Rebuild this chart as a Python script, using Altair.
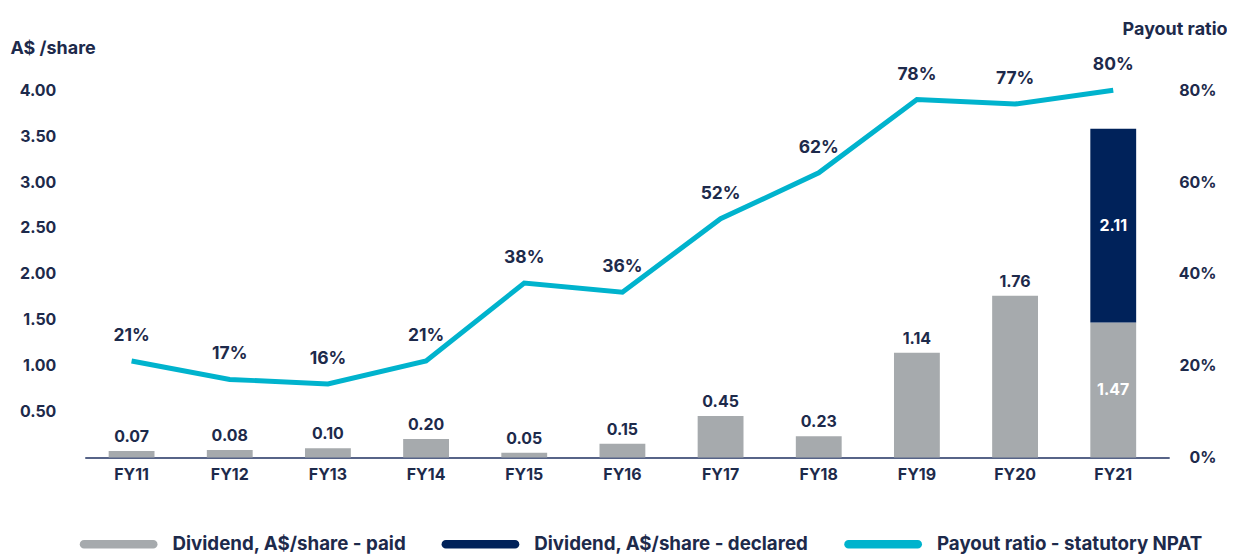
import altair as alt
import pandas as pd

years = ["FY11", "FY12", "FY13", "FY14", "FY15", "FY16", "FY17", "FY18", "FY19", "FY20", "FY21"]
paid = [0.07, 0.08, 0.10, 0.20, 0.05, 0.15, 0.45, 0.23, 1.14, 1.76, 1.47]
declared = [0, 0, 0, 0, 0, 0, 0, 0, 0, 0, 2.11]
payout = [0.21, 0.17, 0.16, 0.21, 0.38, 0.36, 0.52, 0.62, 0.78, 0.77, 0.80]

S_PAID = "Dividend, A$/share - paid"
S_DECL = "Dividend, A$/share - declared"
S_PAY = "Payout ratio - statutory NPAT"
series = [S_PAID, S_DECL, S_PAY]
colors = ["#a6aaad", "#00225a", "#00b3cd"]

TEXT = "#1d2a4b"
FONT = "Inter"

rows = []
for i, y in enumerate(years):
    rows.append({"year": y, "series": S_PAID, "value": paid[i], "order": 0})
    if declared[i] > 0:
        rows.append({"year": y, "series": S_DECL, "value": declared[i], "order": 1})
bars_df = pd.DataFrame(rows)

top_df = pd.DataFrame({"year": years, "value": paid, "decl": declared})
top_df = top_df[top_df["decl"] == 0]

inside_rows = []
for i, y in enumerate(years):
    if declared[i] > 0:
        inside_rows.append({"year": y, "value": paid[i] / 2, "label": f"{paid[i]:.2f}"})
        inside_rows.append({"year": y, "value": paid[i] + declared[i] / 2, "label": f"{declared[i]:.2f}"})
inside_df = pd.DataFrame(inside_rows)

line_df = pd.DataFrame({"year": years, "payout": payout})
legend_df = pd.DataFrame({"series": series, "year": ["FY11"] * 3, "value": [0, 0, 0]})

xscale = alt.Scale(domain=years, paddingInner=0.533, paddingOuter=0.29, align=0.42)
xaxis = alt.Axis(title=None, labelAngle=0, ticks=False, domainColor="#1f3160",
                 domainWidth=1.5, labelPadding=9, labelFontSize=16,
                 labelFont=FONT, labelFontWeight="bold", labelColor=TEXT)
xenc = alt.X("year:N", scale=xscale, sort=years, axis=xaxis)

yscale_l = alt.Scale(domain=[0, 4.3], nice=False)
yscale_r = alt.Scale(domain=[0, 0.86], nice=False)
yaxis_l = alt.Axis(values=[0.5, 1, 1.5, 2, 2.5, 3, 3.5, 4], format=".2f",
                   title="A$ /share", titleAngle=0, titleX=-75, titleY=-14,
                   titleAlign="left", titleBaseline="middle", titleFontSize=18,
                   titleFont=FONT, titleFontWeight="bold", titleColor=TEXT,
                   ticks=False, domain=False, grid=False, labelPadding=29,
                   labelFontSize=16, labelFont=FONT, labelFontWeight="bold",
                   labelColor=TEXT)
yaxis_r = alt.Axis(orient="right", values=[0, 0.2, 0.4, 0.6, 0.8], format=".0%",
                   title="Payout ratio", titleAngle=0, titleX=58, titleY=-33,
                   titleAlign="right", titleBaseline="middle", titleFontSize=18,
                   titleFont=FONT, titleFontWeight="bold", titleColor=TEXT,
                   ticks=False, domain=False, grid=False, labelPadding=47,
                   labelAlign="right", labelFontSize=16, labelFont=FONT,
                   labelFontWeight="bold", labelColor=TEXT)

color_scale = alt.Scale(domain=series, range=colors)
legend = alt.Legend(title=None, orient="none", legendX=-5, legendY=444,
                    direction="horizontal",
                    symbolType="M-0.89,-0.11 L0.89,-0.11 A0.11,0.11 0 0 1 0.89,0.11 L-0.89,0.11 A0.11,0.11 0 0 1 -0.89,-0.11 Z",
                    symbolSize=6084, symbolOpacity=1, symbolStrokeWidth=0,
                    labelFontSize=18.8, labelFont=FONT, labelFontWeight="bold",
                    labelColor=TEXT, labelOffset=15, columnPadding=35,
                    padding=0, labelLimit=400)
cenc = alt.Color("series:N", scale=color_scale, sort=series, legend=legend)

yl = alt.Y("value:Q", scale=yscale_l, axis=yaxis_l)

bars = alt.Chart(bars_df).mark_bar().encode(
    x=xenc,
    y=alt.Y("value:Q", scale=yscale_l, axis=yaxis_l, stack="zero"),
    color=cenc,
    order=alt.Order("order:Q"),
)

bar_labels = alt.Chart(top_df).mark_text(dy=-14, fontSize=16, font=FONT, fontWeight="bold",
                                         color=TEXT).encode(
    x=xenc,
    y=yl,
    text=alt.Text("value:Q", format=".2f"),
)

inside_labels = alt.Chart(inside_df).mark_text(fontSize=16, font=FONT, fontWeight="bold",
                                               color="white").encode(
    x=xenc,
    y=yl,
    text="label:N",
)

legend_layer = alt.Chart(legend_df).mark_point(filled=True, opacity=0, size=1).encode(
    x=xenc,
    y=yl,
    color=cenc,
)

left = alt.layer(bars, bar_labels, inside_labels, legend_layer)

yr = alt.Y("payout:Q", scale=yscale_r, axis=yaxis_r)

line = alt.Chart(line_df).mark_line(color="#00b3cd", strokeWidth=5).encode(
    x=xenc,
    y=yr,
)

line_labels = alt.Chart(line_df).mark_text(dy=-25, fontSize=17.5, font=FONT, fontWeight="bold",
                                           color=TEXT).encode(
    x=xenc,
    y=yr,
    text=alt.Text("payout:Q", format=".0%"),
)

right = alt.layer(line, line_labels)

chart = alt.layer(left, right).resolve_scale(y="independent").properties(
    width=1088, height=396, padding={"left": 2, "top": 12, "right": 0, "bottom": 0}
).configure_view(stroke=None)

chart.save("out.html", embed_options={"renderer": "svg", "actions": False})
